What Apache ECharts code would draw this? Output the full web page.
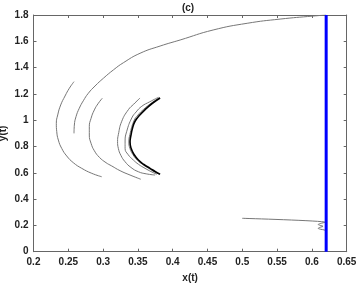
<!DOCTYPE html>
<html>
<head>
<meta charset="utf-8">
<script src="https://cdn.jsdelivr.net/npm/echarts@6/dist/echarts.min.js"></script>
<style>
  html, body { margin: 0; padding: 0; background: #fff; }
  #main { width: 358px; height: 283px; }
</style>
</head>
<body>
<div id="main"></div>
<script>
// trajectory pieces, [x, y]
var bigArc = [[0.6205, 1.800], [0.6018, 1.792], [0.5544, 1.769], [0.5070, 1.737], [0.4581, 1.686],
  [0.4107, 1.610], [0.3819, 1.564], [0.3531, 1.509], [0.3291, 1.437], [0.3147, 1.382],
  [0.3004, 1.319], [0.2884, 1.260], [0.2788, 1.205], [0.2716, 1.148], [0.2658, 1.091],
  [0.2611, 1.027], [0.2587, 0.963], [0.2582, 0.900]];
var arcA = [[0.2582, 1.293], [0.2515, 1.243], [0.2453, 1.184], [0.2391, 1.116], [0.2348, 1.040],
  [0.2328, 0.976], [0.2334, 0.913], [0.2357, 0.849], [0.2405, 0.786], [0.2477, 0.728],
  [0.2572, 0.677], [0.2693, 0.634], [0.2837, 0.596], [0.2980, 0.570]];
var arcC = [[0.2989, 1.167], [0.2932, 1.129], [0.2874, 1.078], [0.2827, 1.014], [0.2802, 0.951],
  [0.2802, 0.887], [0.2827, 0.824], [0.2874, 0.768], [0.2946, 0.718], [0.3042, 0.677],
  [0.3124, 0.652], [0.3244, 0.616], [0.3387, 0.583], [0.3541, 0.551]];
var arcD = [[0.3531, 1.169], [0.3440, 1.122], [0.3363, 1.080], [0.3268, 0.992], [0.3219, 0.890],
  [0.3208, 0.838], [0.3219, 0.786], [0.3255, 0.733], [0.3316, 0.684], [0.3400, 0.641],
  [0.3507, 0.608], [0.3620, 0.592], [0.3747, 0.583]];
var arcE = [[0.3794, 1.174], [0.3670, 1.140], [0.3556, 1.106], [0.3475, 1.063], [0.3412, 1.017],
  [0.3340, 0.916], [0.3316, 0.842], [0.3316, 0.786], [0.3360, 0.738], [0.3435, 0.697],
  [0.3510, 0.664], [0.3603, 0.634], [0.3690, 0.609], [0.3771, 0.589]];
var arcE2 = [[0.3810, 1.172], [0.3690, 1.129], [0.3585, 1.084], [0.3500, 1.039], [0.3442, 0.994],
  [0.3385, 0.891], [0.3370, 0.834], [0.3385, 0.786], [0.3428, 0.739], [0.3490, 0.697],
  [0.3570, 0.663], [0.3655, 0.634], [0.3730, 0.610], [0.3805, 0.591]];
var arcF = [[0.3819, 1.169], [0.3704, 1.127], [0.3603, 1.080], [0.3524, 1.037], [0.3459, 0.992],
  [0.3423, 0.941], [0.3402, 0.890], [0.3387, 0.834], [0.3402, 0.786], [0.3445, 0.739],
  [0.3507, 0.697], [0.3586, 0.663], [0.3675, 0.634], [0.3747, 0.610], [0.3819, 0.589]];
var tail = [[0.500, 0.254], [0.619, 0.224], [0.612, 0.214], [0.609, 0.207], [0.612, 0.200],
  [0.616, 0.193], [0.612, 0.186], [0.609, 0.178], [0.613, 0.170], [0.618, 0.165], [0.620, 0.155]];
var blueLine = [[0.6205, 0], [0.6205, 1.8]];

var myChart = echarts.init(document.getElementById('main'));

var lbl = { color: '#222', fontSize: 10, fontWeight: 'bold', fontFamily: 'Liberation Sans' };

function axisCommon(extra) {
  var a = {
    type: 'value',
    axisLine: { show: true, onZero: false, lineStyle: { color: '#666', width: 1 } },
    axisTick: { show: true, inside: true, length: 3, lineStyle: { color: '#666' } },
    splitLine: { show: false }
  };
  for (var k in extra) a[k] = extra[k];
  return a;
}

function grey(d) {
  return { type: 'line', data: d, showSymbol: false, smooth: 0.5,
    lineStyle: { color: '#777', width: 1 }, z: 2 };
}

var option = {
  animation: false,
  backgroundColor: '#fff',
  title: {
    text: '(c)', left: 183, top: -2, textAlign: 'center',
    textStyle: { fontSize: 10, fontWeight: 'bold', color: '#222', fontFamily: 'Liberation Sans' }
  },
  grid: { left: 33.5, right: 11.3, top: 15, bottom: 31.3, containLabel: false, outerBoundsMode: 'none' },
  xAxis: [
    axisCommon({ position: 'bottom', min: 0.2, max: 0.65, interval: 0.05,
      axisLabel: Object.assign({ margin: 6 }, lbl),
      name: 'x(t)', nameLocation: 'middle', nameGap: 22,
      nameTextStyle: { fontSize: 10, fontWeight: 'bold', color: '#222', fontFamily: 'Liberation Sans' } }),
    axisCommon({ position: 'top', min: 0.2, max: 0.65, interval: 0.05, axisLabel: { show: false } })
  ],
  yAxis: [
    axisCommon({ position: 'left', min: 0, max: 1.8, interval: 0.2,
      axisLabel: Object.assign({ margin: 5 }, lbl),
      name: 'y(t)', nameLocation: 'middle', nameGap: 25, nameMoveOverlap: false,
      nameTextStyle: { fontSize: 10, fontWeight: 'bold', color: '#222', fontFamily: 'Liberation Sans' } }),
    axisCommon({ position: 'right', min: 0, max: 1.8, interval: 0.2, axisLabel: { show: false } })
  ],
  series: [
    grey(bigArc), grey(arcA), grey(arcC), grey(arcD), grey(arcE), grey(arcE2),
    { type: 'line', data: arcF, showSymbol: false, smooth: 0.5,
      lineStyle: { color: '#000', width: 1.6 }, z: 3 },
    { type: 'line', data: tail, showSymbol: false, smooth: 0.3,
      lineStyle: { color: '#777', width: 1 }, z: 2 },
    { type: 'line', data: blueLine, showSymbol: false,
      lineStyle: { color: '#0000ff', width: 3 }, z: 4 }
  ]
};
myChart.setOption(option, true);
</script>
</body>
</html>
